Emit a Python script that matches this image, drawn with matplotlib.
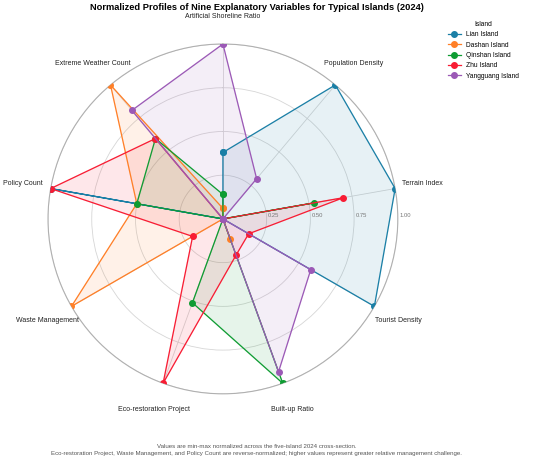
import numpy as np
import matplotlib
matplotlib.use("Agg")
import matplotlib.pyplot as plt

plt.rcParams['font.family'] = ['Liberation Sans', 'DejaVu Sans']

# axes, clockwise from the top
variables = ["Artificial Shoreline Ratio", "Population Density", "Terrain Index",
             "Tourist Density", "Built-up Ratio", "Eco-restoration Project",
             "Waste Management", "Policy Count", "Extreme Weather Count"]

islands = ["Lian Island", "Dashan Island", "Qinshan Island", "Zhu Island", "Yangguang Island"]

lian      = [0.38, 1.00, 1.00, 1.00, 0.00, 0.00, 0.00, 1.00, 0.00]
dashan    = [0.06, 0.00, 0.00, 0.00, 0.12, 0.00, 1.00, 0.50, 1.00]
qinshan   = [0.14, 0.00, 0.53, 0.00, 1.00, 0.51, 0.00, 0.50, 0.60]
zhu       = [0.00, 0.00, 0.70, 0.17, 0.22, 1.00, 0.20, 1.00, 0.60]
yangguang = [1.00, 0.30, 0.00, 0.58, 0.93, 0.00, 0.00, 0.00, 0.81]

series = [lian, dashan, qinshan, zhu, yangguang]
colors = ["#1a7fa6", "#ff7f27", "#0e9c32", "#f81c33", "#9b59b6"]

ring_values = [0.25, 0.50, 0.75, 1.00]
ring_labels = ["0.25", "0.50", "0.75", "1.00"]

footnote = ("Values are min-max normalized across the five-island 2024 cross-section.\n"
            "Eco-restoration Project, Waste Management, and Policy Count are reverse-normalized; "
            "higher values represent greater relative management challenge.")

n = len(variables)
angles = np.linspace(0, 2 * np.pi, n, endpoint=False)
closed = np.concatenate([angles, angles[:1]])

fig = plt.figure(figsize=(5.5, 4.7), dpi=100)
ax = fig.add_axes([0.0873, 0.1617, 0.636, 0.745], projection="polar")
ax.set_theta_offset(np.pi / 2)
ax.set_theta_direction(-1)
ax.set_ylim(0, 1)

for vals, name, col in zip(series, islands, colors):
    v = np.concatenate([vals, vals[:1]])
    ax.plot(closed, v, color=col, lw=0.9, marker="o", markersize=4, label=name, zorder=3)
    ax.fill(closed, v, color=col, alpha=0.1, zorder=2)

ax.set_xticks(angles)
ax.set_xticklabels([])
ax.set_yticks(ring_values)
ax.set_yticklabels([])
ax.grid(color="#d6d6d6", lw=0.6)
ax.spines["polar"].set_color("#b0b0b0")
ax.spines["polar"].set_linewidth(0.8)
ax.tick_params(length=0)

# variable names outside the circle
for ang, name in zip(angles, variables):
    ax.text(ang, 1.16, name, ha="center", va="center", fontsize=5, color="#222222", clip_on=False)

# ring values along the right side
for r, lab in zip(ring_values, ring_labels):
    ax.annotate(lab, xy=(np.pi / 2, r), xytext=(1, 2.2), textcoords="offset points",
                ha="left", va="center", fontsize=4.2, color="#777777", annotation_clip=False)

fig.text(0.467, 0.994, "Normalized Profiles of Nine Explanatory Variables for Typical Islands (2024)",
         ha="center", va="top", fontsize=6.7, fontweight="bold")

fig.text(0.467, 0.03, footnote, ha="center", va="bottom", fontsize=4.45, color="#555555",
         linespacing=1.55)

leg = fig.legend(loc="upper left", bbox_to_anchor=(0.803, 0.968), frameon=False, fontsize=4.8,
                 title="Island", title_fontsize=4.8, labelspacing=0.5, handlelength=2.0,
                 handletextpad=0.8, markerscale=1.0)

fig.savefig("out.png", dpi=100)
